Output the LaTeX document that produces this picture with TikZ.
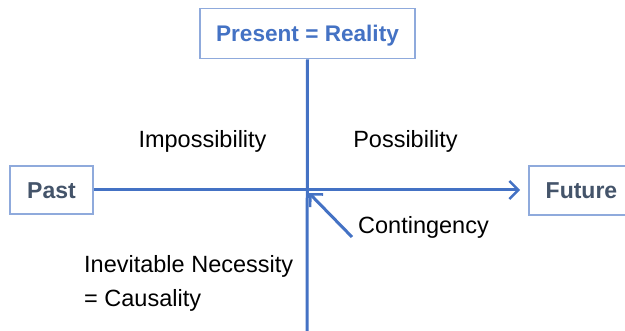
\documentclass[tikz,border=0pt]{standalone}
\usepackage{fontspec}
\setmainfont{Liberation Sans}
\usetikzlibrary{arrows.meta}
\definecolor{lineblue}{HTML}{4472C4}
\definecolor{boxblue}{HTML}{8FAADC}
\definecolor{slate}{HTML}{44546A}
\tikzset{
  axis/.style={draw=lineblue, line width=3pt},
  axisarrow/.style={axis, -{Straight Barb[length=9pt,width=18pt,line width=2.6pt]}},
  tbox/.style={draw=boxblue, line width=1.6pt, fill=white, inner sep=0pt, text height=16.5pt, text depth=0pt, font=\fontsize{23}{27}\selectfont\bfseries, text=slate},
  lbl/.style={font=\fontsize{23.5}{28}\selectfont, text=black, inner sep=0pt},
}
\begin{document}
\begin{tikzpicture}[x=1pt,y=-1pt]
\useasboundingbox (0,0) rectangle (625,331);
\node[tbox, text=lineblue, text height=16.2pt, font=\fontsize{22.6}{27}\selectfont\bfseries, minimum width=215pt, minimum height=50pt] (present) at (307.5,33.5) {Present = Reality};
\node[tbox, minimum width=83pt, minimum height=48pt] (past) at (51.5,190) {Past};
\node[tbox, minimum width=105pt, minimum height=49pt] (future) at (581.5,190.5) {Future};
\coordinate (bottom) at (307,335);
\coordinate (origin) at (307,190);
\coordinate (ctail) at (352,237);
\draw[axis] (present.south) -- (bottom);
\draw[axisarrow] (past.east) -- ([xshift=-8pt]future.west |- origin);
\draw[axisarrow] (ctail) -- ([shift={(2,3)}]origin);
\node[lbl, anchor=base] (imp) at (202.5,148) {Impossibility};
\node[lbl, anchor=base] (pos) at (405.5,148) {Possibility};
\node[lbl, anchor=base west] (cont) at (358,234) {Contingency};
\node[lbl, anchor=base west] (inev) at (84,273) {Inevitable Necessity};
\node[lbl, anchor=base west] (caus) at (84,307) {= Causality};
\end{tikzpicture}
\end{document}
